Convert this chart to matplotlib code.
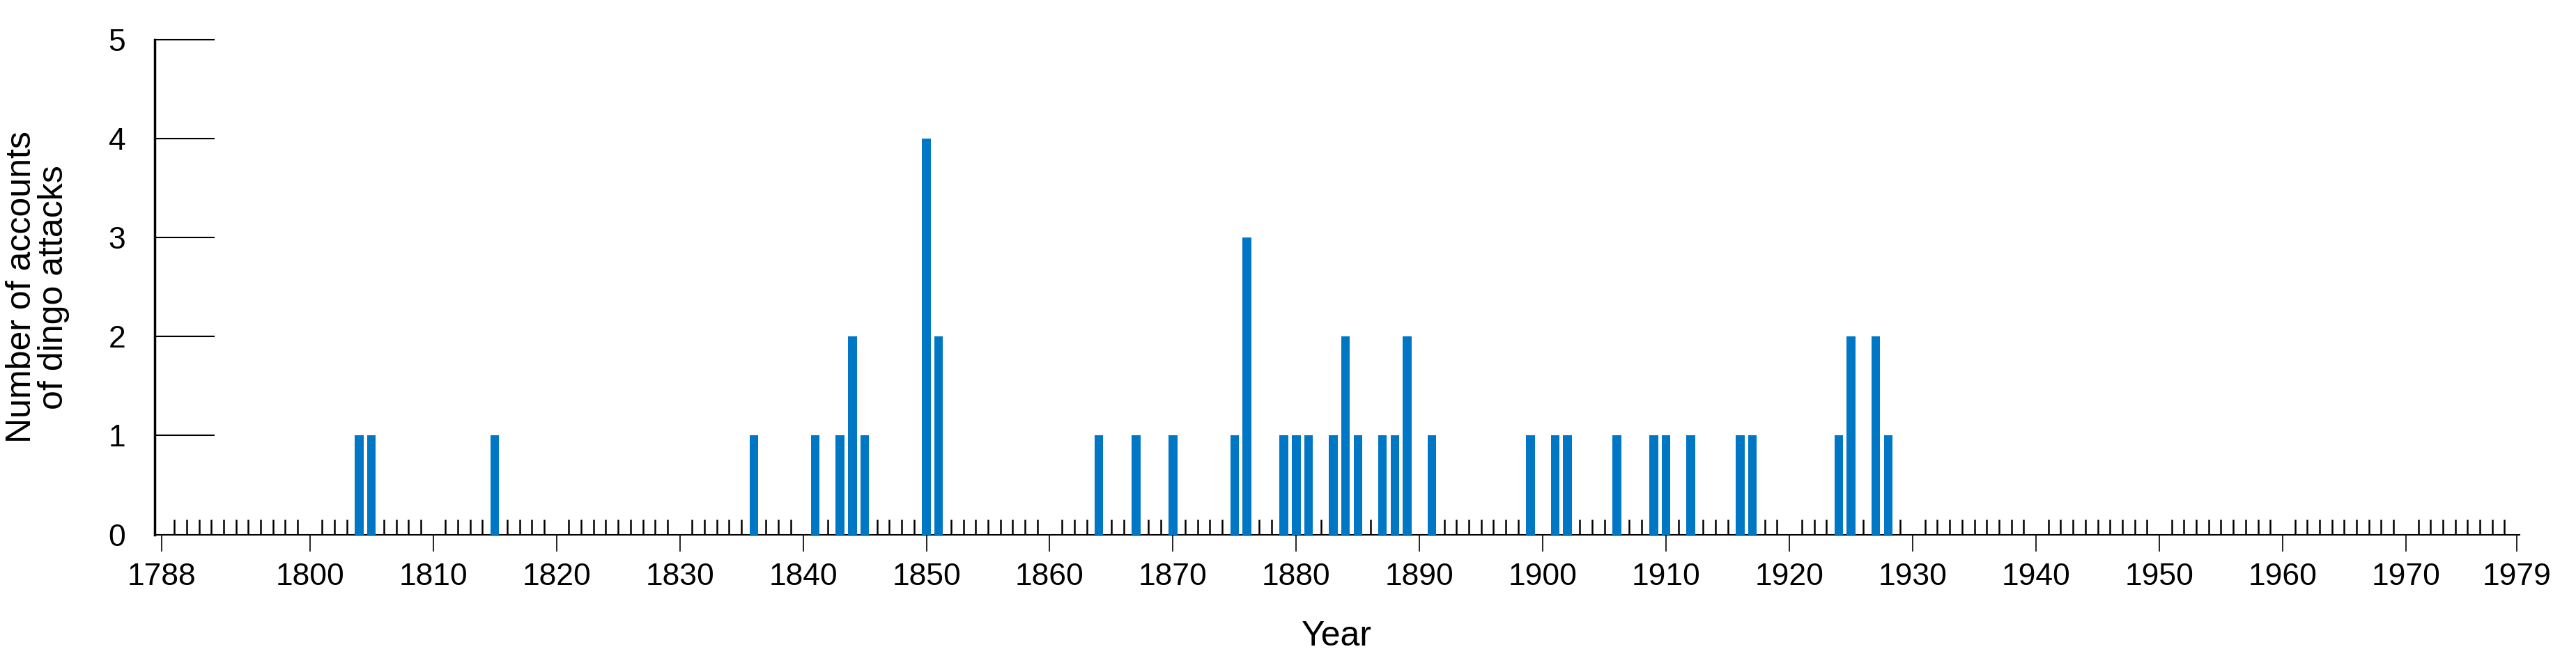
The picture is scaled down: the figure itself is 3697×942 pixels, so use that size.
import matplotlib
matplotlib.use('Agg')
import matplotlib.pyplot as plt
from matplotlib.ticker import MultipleLocator

# Years with recorded dingo attack accounts and the count for each
years = [1804, 1805, 1815, 1836, 1841, 1843, 1844, 1845, 1850, 1851,
         1864, 1867, 1870, 1875, 1876, 1879, 1880, 1881, 1883, 1884,
         1885, 1887, 1888, 1889, 1891, 1899, 1901, 1902, 1906, 1909,
         1910, 1912, 1916, 1917, 1924, 1925, 1927, 1928]
counts = [1, 1, 1, 1, 1, 1, 2, 1, 4, 2,
          1, 1, 1, 1, 3, 1, 1, 1, 1, 2,
          1, 1, 1, 2, 1, 1, 1, 1, 1, 1,
          1, 1, 1, 1, 1, 2, 2, 1]
tick_years = [1788] + list(range(1800, 1971, 10)) + [1979]

plt.rcParams['font.family'] = ['Liberation Sans', 'DejaVu Sans']

fig = plt.figure(figsize=(36.97, 9.42), dpi=100)
ax = fig.add_axes([0.06, 0.185, 0.918, 0.755])

ax.bar(years, counts, width=0.7, color='#0077c4', zorder=3)

ax.set_xlim(1787.4, 1979.2)
ax.set_ylim(0, 5)
ax.spines['top'].set_visible(False)
ax.spines['right'].set_visible(False)
ax.spines['left'].set_linewidth(2.5)
ax.spines['bottom'].set_linewidth(1.5)

# x axis: labelled ticks pointing down, a small tick every year pointing up
ax.set_xticks(tick_years)
ax.set_xticklabels([str(y) for y in tick_years])
ax.xaxis.set_minor_locator(MultipleLocator(1))
ax.tick_params(axis='x', which='major', direction='out', length=17, width=1.2,
               labelsize=32, pad=12)
ax.tick_params(axis='x', which='minor', direction='in', length=16, width=1.8)

# y axis: long ticks pointing into the plot
ax.set_yticks(range(0, 6))
ax.tick_params(axis='y', which='major', direction='in', length=62, width=1.5,
               labelsize=32, pad=30)

ax.set_xlabel('Year', fontsize=36, labelpad=30)
ax.set_ylabel('Number of accounts\nof dingo attacks', fontsize=36, labelpad=40,
              linespacing=1.0)

plt.savefig('out.png')
